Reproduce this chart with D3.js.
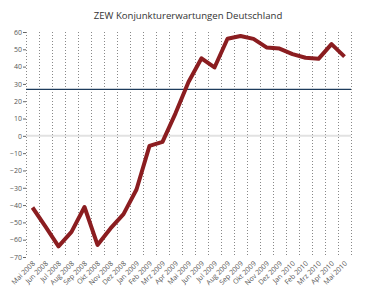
<!DOCTYPE html>
<html>
<head>
<meta charset="utf-8">
<script src="https://cdn.jsdelivr.net/npm/d3@7"></script>
<style>
  body { margin: 0; background: #fff; }
  svg { display: block; }
</style>
</head>
<body>
<div id="chart"></div>
<script>
// data
let months = ['Mai 2008', 'Jun 2008', 'Jul 2008', 'Aug 2008', 'Sep 2008', 'Okt 2008', 'Nov 2008', 'Dez 2008',
    'Jan 2009', 'Feb 2009', 'Mrz 2009', 'Apr 2009', 'Mai 2009', 'Jun 2009', 'Jul 2009', 'Aug 2009',
    'Sep 2009', 'Okt 2009', 'Nov 2009', 'Dez 2009', 'Jan 2010', 'Feb 2010', 'Mrz 2010', 'Apr 2010', 'Mai 2010'];
let values = [-41.4, -52.4, -63.9, -55.5, -41.1, -63.0, -53.5, -45.2,
    -31.0, -5.8, -3.5, 13.0, 31.1, 44.8, 39.5, 56.1,
    57.7, 56.0, 51.1, 50.4, 47.2, 45.1, 44.5, 53.0, 45.8];
let yTicks = [60, 50, 40, 30, 20, 10, 0, -10, -20, -30, -40, -50, -60, -70];
let average = 26.8;
let title = 'ZEW Konjunkturerwartungen Deutschland';

let width = 365,
    height = 292,
    margin = {top: 32, right: 14, bottom: 35, left: 26};

let svg = d3.select('#chart')
    .append('svg')
    .attr('width', width)
    .attr('height', height);

let xScale = d3.scaleBand()
    .domain(months)
    .range([margin.left, width - margin.right]);

let yScale = d3.scaleLinear()
    .domain([-70, 60])
    .range([height - margin.bottom, margin.top]);

// title
svg.append('text')
    .attr('x', 188)
    .attr('y', 19)
    .attr('text-anchor', 'middle')
    .style('font-family', 'Open Sans, sans-serif')
    .style('font-size', '9.6px')
    .style('fill', '#333')
    .text(title);

// vertical dotted grid at band edges
let edges = months.map(m => xScale(m)).concat([xScale(months[months.length - 1]) + xScale.bandwidth()]);
svg.append('g')
    .selectAll('line')
    .data(edges)
    .enter()
    .append('line')
    .attr('x1', d => Math.round(d) + 0.5)
    .attr('x2', d => Math.round(d) + 0.5)
    .attr('y1', yScale(60))
    .attr('y2', yScale(-70))
    .attr('stroke', '#888')
    .attr('stroke-width', 1)
    .attr('stroke-dasharray', '1,2');

// zero line
svg.append('line')
    .attr('x1', margin.left)
    .attr('x2', width - margin.right)
    .attr('y1', yScale(0))
    .attr('y2', yScale(0))
    .attr('stroke', '#e2e2e2')
    .attr('stroke-width', 2);

// y axis
let axisY = d3.axisLeft(yScale)
    .tickValues(yTicks)
    .tickSize(3)
    .tickPadding(1);

let gy = svg.append('g')
    .attr('transform', `translate(${margin.left}, 0)`)
    .call(axisY);
gy.select('.domain').remove();
gy.selectAll('line').attr('stroke', '#666');
gy.selectAll('text')
    .style('font-family', 'Open Sans, sans-serif')
    .style('font-size', '7px')
    .style('fill', '#555');

// x axis labels
let axisX = d3.axisBottom(xScale)
    .tickSize(0)
    .tickPadding(0);

let gx = svg.append('g')
    .attr('transform', `translate(0, ${height - margin.bottom})`)
    .call(axisX);
gx.select('.domain').remove();
gx.selectAll('text')
    .style('font-family', 'Open Sans, sans-serif')
    .style('font-size', '7px')
    .style('fill', '#555')
    .attr('text-anchor', 'end')
    .attr('dy', 0)
    .attr('transform', 'translate(3, 7) rotate(-45)');

// average line
svg.append('line')
    .attr('x1', margin.left)
    .attr('x2', width - margin.right)
    .attr('y1', yScale(average))
    .attr('y2', yScale(average))
    .attr('stroke', '#1d3c5c')
    .attr('stroke-width', 1.3);

// series
let line = d3.line()
    .x((d, i) => xScale(months[i]) + xScale.bandwidth() / 2)
    .y(d => yScale(d));

svg.append('path')
    .datum(values)
    .attr('d', line)
    .attr('fill', 'none')
    .attr('stroke', '#8b1d20')
    .attr('stroke-width', 4)
    .attr('stroke-linejoin', 'round');
</script>
</body>
</html>
